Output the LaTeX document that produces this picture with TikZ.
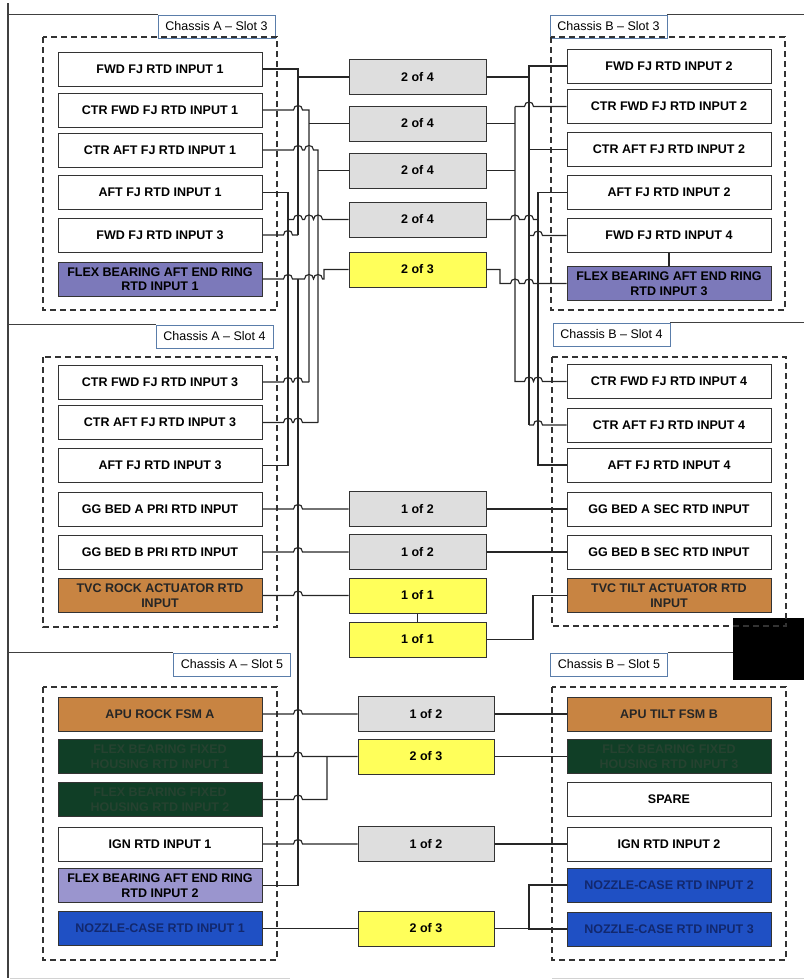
\documentclass[tikz,border=0pt]{standalone}
\usepackage{fontspec}
\setmainfont{Liberation Sans}
\definecolor{stipple}{RGB}{222,222,222}
\definecolor{vote}{RGB}{255,255,90}
\definecolor{ringA}{RGB}{124,121,186}
\definecolor{ringB}{RGB}{154,149,206}
\definecolor{actu}{RGB}{200,132,66}
\definecolor{fixed}{RGB}{16,62,38}
\definecolor{fixedtxt}{RGB}{38,66,48}
\definecolor{nozzle}{RGB}{31,80,196}
\definecolor{nozzletxt}{RGB}{18,40,110}
\definecolor{tagline}{RGB}{90,125,170}
% one wire hop over a vertical bus at x=#1 on a horizontal run at y=#2
\newcommand\hp[2]{-- ({#1-4.5},#2) .. controls ({#1-4.5},{#2-6}) and ({#1+4.5},{#2-6}) .. ({#1+4.5},#2)}
\begin{document}
\begin{tikzpicture}[x=1pt,y=-1pt,
  wire/.style={line width=1.15pt, draw=black!85},
  frame/.style={line width=1.1pt, draw=black!75},
  group/.style={draw=black!80, line width=1.5pt, dash pattern=on 6pt off 4pt},
  rtd/.style={draw=black!80, line width=1pt, fill=white, minimum width=204pt,
    minimum height=34pt, inner sep=0pt, align=center,
    font=\fontsize{12.5}{14.5}\selectfont\bfseries},
  vote/.style={draw=black!80, line width=1pt, minimum width=137pt,
    minimum height=35pt, inner sep=0pt,
    font=\fontsize{12.5}{14.5}\selectfont\bfseries},
  gvote/.style={vote, fill=stipple},
  yvote/.style={vote, fill=vote},
  ringa/.style={rtd, fill=ringA},
  ringb/.style={rtd, fill=ringB},
  actu/.style={rtd, fill=actu, text=black!85},
  fixed/.style={rtd, fill=fixed, text=fixedtxt},
  nozzle/.style={rtd, fill=nozzle, text=nozzletxt},
  chassis/.style={draw=tagline, line width=0.8pt, fill=white,
    minimum width=117pt, minimum height=23pt, inner sep=0pt,
    font=\fontsize{12.5}{14}\selectfont}
]
\useasboundingbox (0,0) rectangle (804,980);

% ---------- chassis slot tags and frame ----------
\node[chassis] (tA3) at (216.5,26.5) {Chassis A -- Slot 3};
\node[chassis] (tB3) at (608.5,26.5) {Chassis B -- Slot 3};
\node[chassis] (tA4) at (214.5,336.5) {Chassis A -- Slot 4};
\node[chassis] (tB4) at (611.5,334.5) {Chassis B -- Slot 4};
\node[chassis] (tA5) at (232,664.5) {Chassis A -- Slot 5};
\node[chassis] (tB5) at (609,664.5) {Chassis B -- Slot 5};
\node[fill=black, minimum width=71pt, minimum height=62pt, inner sep=0pt] (blk) at (768.5,649) {};
\coordinate (fl) at (8,0);
\coordinate (fr) at (804,0);
\draw[frame] (8,3) -- (8,978);
\draw[frame] (tA3.north west -| fl) -- (tA3.north west);
\draw[frame] (tB3.north east) -- (tB3.north east -| fr);
\draw[frame] (tA4.north west -| fl) -- (tA4.north west);
\draw[frame] (tB4.north east) -- (tB4.north east -| fr);
\draw[frame] (tA5.north west -| fl) -- (tA5.north west);
\draw[frame] (tB5.north east) -- (tB5.north east -| blk.west);
\draw[gray!35, line width=0.8pt] (10,978) -- (290,978) (552,978) -- (804,978);

% ---------- dashed slot groups ----------
\draw[group] (43,37) rectangle (277,310);
\draw[group] (43,357) rectangle (277,627);
\draw[group] (43,687) rectangle (277,960);
\draw[group] (551,37) rectangle (785,310);
\draw[group] (552,357) rectangle (786,626);
\draw[group] (552,687) rectangle (786,960);

% ---------- chassis A inputs ----------
\node[rtd]   (a31) at (160,69)    {FWD FJ RTD INPUT 1};
\node[rtd]   (a32) at (160,110)   {CTR FWD FJ RTD INPUT 1};
\node[rtd]   (a33) at (160,150)   {CTR AFT FJ RTD INPUT 1};
\node[rtd]   (a34) at (160,192.5) {AFT FJ RTD INPUT 1};
\node[rtd]   (a35) at (160,235)   {FWD FJ RTD INPUT 3};
\node[ringa] (a36) at (160,279)   {FLEX BEARING AFT END RING\\RTD INPUT 1};
\node[rtd]   (a41) at (160,382)   {CTR FWD FJ RTD INPUT 3};
\node[rtd]   (a42) at (160,422.5) {CTR AFT FJ RTD INPUT 3};
\node[rtd]   (a43) at (160,465.5) {AFT FJ RTD INPUT 3};
\node[rtd]   (a44) at (160,509)   {GG BED A PRI RTD INPUT};
\node[rtd]   (a45) at (160,552)   {GG BED B PRI RTD INPUT};
\node[actu]  (a46) at (160,595.5) {TVC ROCK ACTUATOR RTD\\INPUT};
\node[actu]  (a51) at (160,714)   {APU ROCK FSM A};
\node[fixed] (a52) at (160,756.5) {FLEX BEARING FIXED\\HOUSING RTD INPUT 1};
\node[fixed] (a53) at (160,799.5) {FLEX BEARING FIXED\\HOUSING RTD INPUT 2};
\node[rtd]   (a54) at (160,844)   {IGN RTD INPUT 1};
\node[ringb] (a55) at (160,885.5) {FLEX BEARING AFT END RING\\RTD INPUT 2};
\node[nozzle](a56) at (160,928.5) {NOZZLE-CASE RTD INPUT 1};

% ---------- chassis B inputs ----------
\node[rtd]   (b31) at (669,66)    {FWD FJ RTD INPUT 2};
\node[rtd]   (b32) at (669,106.5) {CTR FWD FJ RTD INPUT 2};
\node[rtd]   (b33) at (669,149.5) {CTR AFT FJ RTD INPUT 2};
\node[rtd]   (b34) at (669,192.5) {AFT FJ RTD INPUT 2};
\node[rtd]   (b35) at (669,235.5) {FWD FJ RTD INPUT 4};
\node[ringa] (b36) at (669,283.5) {FLEX BEARING AFT END RING\\RTD INPUT 3};
\node[rtd]   (b41) at (669,381.5) {CTR FWD FJ RTD INPUT 4};
\node[rtd]   (b42) at (669,425)   {CTR AFT FJ RTD INPUT 4};
\node[rtd]   (b43) at (669,465)   {AFT FJ RTD INPUT 4};
\node[rtd]   (b44) at (669,509)   {GG BED A SEC RTD INPUT};
\node[rtd]   (b45) at (669,552)   {GG BED B SEC RTD INPUT};
\node[actu]  (b46) at (669,595.5) {TVC TILT ACTUATOR RTD\\INPUT};
\node[actu]  (b51) at (669,714)   {APU TILT FSM B};
\node[fixed] (b52) at (669,756.5) {FLEX BEARING FIXED\\HOUSING RTD INPUT 3};
\node[rtd]   (b53) at (669,799.5) {SPARE};
\node[rtd]   (b54) at (669,844)   {IGN RTD INPUT 2};
\node[nozzle](b55) at (669,885)   {NOZZLE-CASE RTD INPUT 2};
\node[nozzle](b56) at (669,929)   {NOZZLE-CASE RTD INPUT 3};

% ---------- voting blocks ----------
\node[gvote] (m1)  at (417.5,77)    {2 of 4};
\node[gvote] (m2)  at (417.5,123.5) {2 of 4};
\node[gvote] (m3)  at (417.5,170.5) {2 of 4};
\node[gvote] (m4)  at (417.5,219.5) {2 of 4};
\node[yvote] (m5)  at (417.5,269.5) {2 of 3};
\node[gvote] (m6)  at (417.5,509)   {1 of 2};
\node[gvote] (m7)  at (417.5,552)   {1 of 2};
\node[yvote] (m8)  at (417.5,595.5) {1 of 1};
\node[yvote] (m9)  at (417.5,639.5) {1 of 1};
\node[gvote, minimum width=136pt] (m10) at (426,714)   {1 of 2};
\node[yvote, minimum width=136pt] (m11) at (426,756.5) {2 of 3};
\node[gvote, minimum width=136pt] (m12) at (426,844)   {1 of 2};
\node[yvote, minimum width=136pt] (m13) at (426,928.5) {2 of 3};

% ---------- bus positions ----------
\coordinate (xa) at (288,0);
\coordinate (xb) at (298,0);
\coordinate (xc) at (309,0);
\coordinate (xd) at (318,0);
\coordinate (xf) at (327,0);
\coordinate (xp) at (515,0);
\coordinate (xq) at (529,0);
\coordinate (xs) at (538,0);
\coordinate (xt) at (533,0);

% ---------- chassis A wiring ----------
% FWD FJ
\draw[wire] (a31.east) -- (a31.east -| xb) -- (a35.east -| xb);
\draw[wire] (a35.east) \hp{288}{235} -- (a35.east -| xb);
\draw[wire] (m1.west -| xb) -- (m1.west);
% CTR FWD FJ
\draw[wire] (a32.east) \hp{298}{110} -- (a32.east -| xc) -- (a41.east -| xc);
\draw[wire] (a41.east) \hp{288}{382} \hp{298}{382} -- (a41.east -| xc);
\draw[wire] (m2.west -| xc) -- (m2.west);
% CTR AFT FJ
\draw[wire] (a33.east) \hp{298}{150} \hp{309}{150} -- (a33.east -| xd) -- (a42.east -| xd);
\draw[wire] (a42.east) \hp{288}{422.5} \hp{298}{422.5} -- (a42.east -| xd);
\draw[wire] (m3.west -| xd) -- (m3.west);
% AFT FJ
\draw[wire] (a34.east) -- (a34.east -| xa) -- (a43.east -| xa) -- (a43.east);
\draw[wire] (m4.west -| xa) \hp{298}{219.5} \hp{309}{219.5} \hp{318}{219.5} -- (m4.west);
% flex bearing aft end ring
\draw[wire] (a36.east) \hp{288}{279} -- (298,279) \hp{309}{279} \hp{318}{279} -- (324,279) -- (324,269.5) -- (m5.west);
\draw[wire] (a36.east -| xb) -- (a55.east -| xb) -- (a55.east);
% slot 4
\draw[wire] (a44.east) \hp{298}{509} -- (m6.west);
\draw[wire] (a45.east) \hp{298}{552} -- (m7.west);
\draw[wire] (a46.east) \hp{298}{595.5} -- (m8.west);
\draw[wire] (m8.south) -- (m9.north);
% slot 5
\draw[wire] (a51.east) \hp{298}{714} -- (m10.west);
\draw[wire] (a52.east) \hp{298}{756.5} -- (m11.west);
\draw[wire] (a53.east) \hp{298}{799.5} -- (a53.east -| xf) -- (a52.east -| xf);
\draw[wire] (a54.east) \hp{298}{844} -- (m12.west);
\draw[wire] (a56.east) -- (m13.west);

% ---------- chassis B wiring ----------
\draw[wire] (b31.west) -- (b31.west -| xq) -- (b42.west -| xq);
\draw[wire] (m1.east) -- (m1.east -| xq);
\draw[wire] (b33.west -| xq) -- (b33.west);
\draw[wire] (b35.west -| xq) \hp{538}{235.5} -- (b35.west);
\draw[wire] (b42.west -| xq) \hp{538}{425} -- (b42.west);
\draw[wire] (b32.west -| xp) \hp{529}{106.5} -- (b32.west);
\draw[wire] (b32.west -| xp) -- (b41.west -| xp) \hp{529}{381.5} \hp{538}{381.5} -- (b41.west);
\draw[wire] (m2.east) -- (m2.east -| xp);
\draw[wire] (m3.east) -- (m3.east -| xp);
\draw[wire] (b34.west) -- (b34.west -| xs) -- (b43.west -| xs) -- (b43.west);
\draw[wire] (m4.east) \hp{515}{219.5} \hp{529}{219.5} -- (m4.east -| xs);
\draw[wire] (m5.east) -- (500,269.5) -- (500,283.5) \hp{515}{283.5} \hp{529}{283.5} -- (b36.west);
\draw[wire] (b35.south) -- (b36.north);
\draw[wire] (m6.east) -- (b44.west);
\draw[wire] (m7.east) -- (b45.west);
\draw[wire] (m9.east) -- (m9.east -| xt) -- (b46.west -| xt) -- (b46.west);
\draw[wire] (m10.east) -- (b51.west);
\draw[wire] (m11.east) -- (b52.west);
\draw[wire] (m12.east) -- (b54.west);
\draw[wire] (b55.west) -- (b55.west -| xq) -- (b56.west -| xq) -- (b56.west);
\draw[wire] (m13.east) -- (m13.east -| xq);
\end{tikzpicture}
\end{document}
